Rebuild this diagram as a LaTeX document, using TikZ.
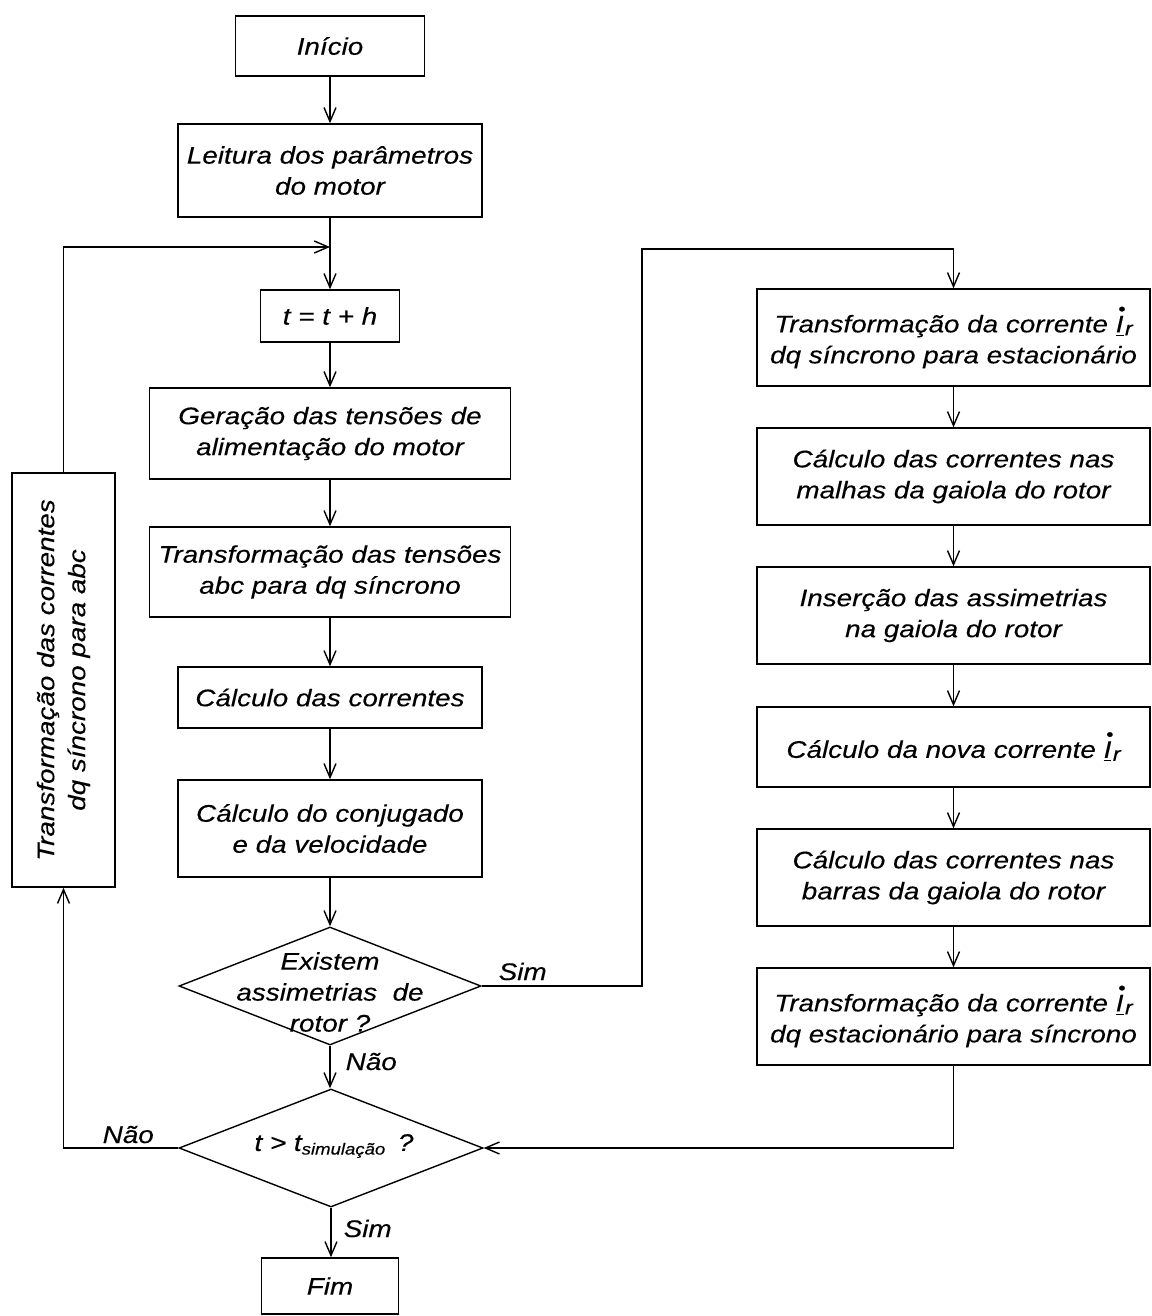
\documentclass[tikz,border=0pt]{standalone}
\usepackage{fontspec}
\setmainfont{Liberation Sans}[FakeStretch=1.16,FakeBold=0.3]
\usepackage{graphicx}
\usetikzlibrary{arrows.meta,shapes.geometric}
\newcommand{\Ir}{\mbox{\rlap{\raisebox{0.72em}{\kern0.1em{\fontsize{9pt}{9pt}\selectfont\textbullet}}}\underline{I}\kern0.06em{\fontsize{10pt}{10pt}\selectfont\raisebox{-0.15em}{r}}}}
\begin{document}
\begin{tikzpicture}[x=0.5pt,y=-0.5pt, line width=0.7pt,
  every node/.style={font=\fontsize{12pt}{15.5pt}\selectfont\itshape},
  box/.style={draw, rectangle, inner sep=0pt, align=center},
  rbox/.style={box, minimum width=196.5pt},
  dia/.style={draw, diamond, inner sep=0pt},
  txt/.style={align=center, inner sep=0pt},
  lbl/.style={anchor=base west, inner sep=0pt},
  arr/.style={-{Straight Barb[length=7pt,width=6pt]}}]
\useasboundingbox (0,0) rectangle (1151,1316);
% left column
\node[box, minimum width=94.5pt, minimum height=30pt] (ini) at (330,46) {Início};
\node[box, minimum width=152pt, minimum height=46.5pt] (leit) at (330,170.5) {Leitura dos parâmetros\\do motor};
\node[box, minimum width=69.5pt, minimum height=26pt] (tth) at (330,316) {t = t + h};
\node[box, minimum width=180.5pt, minimum height=45.5pt] (ger) at (330,433.5) {Geração das tensões de\\alimentação do motor};
\node[box, minimum width=180.5pt, minimum height=45pt] (trt) at (330,572) {Transformação das tensões\\abc para dq síncrono};
\node[box, minimum width=152pt, minimum height=30.5pt] (calc) at (330,697.5) {Cálculo das correntes};
\node[box, minimum width=152pt, minimum height=48.5pt] (conj) at (330,828.5) {Cálculo do conjugado\\e da velocidade};
\node[dia, minimum width=151pt, minimum height=59pt] (d1) at (330,986) {};
\node[txt] (d1t) at (330,992) {Existem\\assimetrias\ \ de\\rotor ?};
\node[dia, minimum width=152pt, minimum height=59pt] (d2) at (331,1148) {};
\node[txt] (d2t) at (334,1146) {t > t\textsubscript{simulação} \,?};
\node[box, minimum width=68.5pt, minimum height=28pt] (fim) at (330,1286) {Fim};
\node[box, minimum width=51.5pt, minimum height=207pt] (lft) at (63.5,680) {\rotatebox{90}{\begin{tabular}{@{}c@{}}Transformação das correntes\\dq síncrono para abc\end{tabular}}};
% right column
\node[rbox, minimum height=48.5pt] (r1) at (953.5,337.5) {Transformação da corrente \Ir\\dq síncrono para estacionário};
\node[rbox, minimum height=48.5pt] (r2) at (953.5,476.5) {Cálculo das correntes nas\\malhas da gaiola do rotor};
\node[rbox, minimum height=48.5pt] (r3) at (953.5,615.5) {Inserção das assimetrias\\na gaiola do rotor};
\node[rbox, minimum height=40pt] (r4) at (953.5,747) {Cálculo da nova corrente \Ir};
\node[rbox, minimum height=48.5pt] (r5) at (953.5,877.5) {Cálculo das correntes nas\\barras da gaiola do rotor};
\node[rbox, minimum height=48.5pt] (r6) at (953.5,1016.5) {Transformação da corrente \Ir\\dq estacionário para síncrono};
% junction coordinates
\coordinate (j1) at (330,247);
\coordinate (c1) at (642,249);
% connectors
\draw[arr] (ini) -- (leit);
\draw[arr] (leit) -- (tth);
\draw[arr] (tth) -- (ger);
\draw[arr] (ger) -- (trt);
\draw[arr] (trt) -- (calc);
\draw[arr] (calc) -- (conj);
\draw[arr] (conj) -- (d1);
\draw[arr] (d1.south) -- (d1.south |- d2.north);
\draw[arr] (d2.south) -- (d2.south |- fim.north);
\draw[arr] (d1.east) -| (c1) -| (r1.north);
\draw[arr] (r1) -- (r2);
\draw[arr] (r2) -- (r3);
\draw[arr] (r3) -- (r4);
\draw[arr] (r4) -- (r5);
\draw[arr] (r5) -- (r6);
\draw[arr] (r6.south) |- (d2.east);
\draw[arr] (d2.west) -| (lft.south);
\draw[arr] (lft.north) |- (j1);
% labels
\node[lbl] (ls1) at (498,980) {Sim};
\node[lbl] (ln1) at (345,1070) {Não};
\node[lbl] (ln2) at (102,1143) {Não};
\node[lbl] (ls2) at (343,1237) {Sim};
\end{tikzpicture}
\end{document}
